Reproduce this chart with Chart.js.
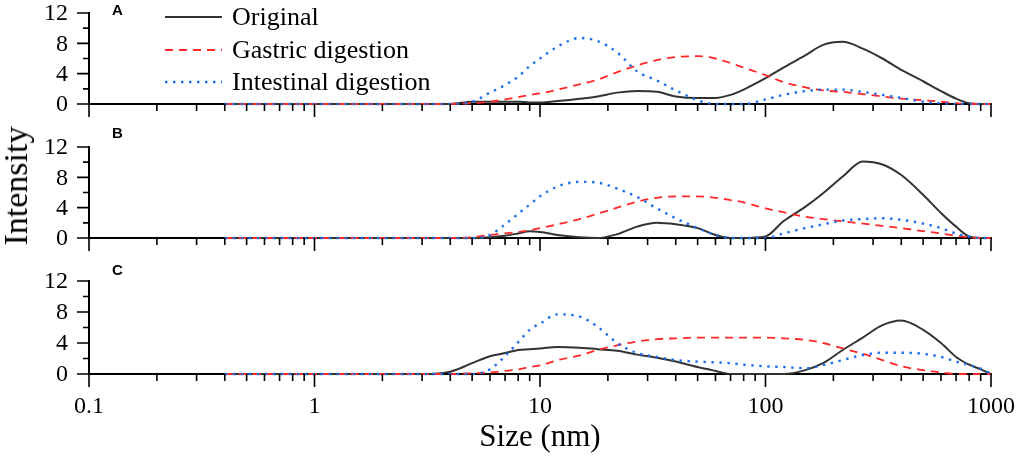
<!DOCTYPE html>
<html>
<head>
<meta charset="utf-8">
<script src="https://cdn.jsdelivr.net/npm/chart.js@4.4.1/dist/chart.umd.min.js"></script>
<style>
  html, body { margin: 0; padding: 0; background: #fff; }
  #wrap { position: relative; width: 1021px; height: 458px; overflow: hidden; }
  #wrap canvas { position: absolute; left: 0; }
  #ylab {
    position: absolute; left: 16px; top: 186px;
    transform: translate(-50%, -50%) rotate(-90deg);
    font: 34px "Liberation Serif", serif; color: #000; white-space: nowrap;
  }
</style>
</head>
<body>
<div id="wrap">
  <canvas id="panelA" width="1021" height="120" style="top:0px"></canvas>
  <canvas id="panelB" width="1021" height="134" style="top:120px"></canvas>
  <canvas id="panelC" width="1021" height="204" style="top:254px"></canvas>
  <div id="ylab">Intensity</div>
</div>
<script>
// particle size (nm), shared by every curve
const sizes = [0.4, 1, 2, 3, 4, 5, 6, 7, 8, 9, 10, 12, 15, 18, 22, 27, 33, 40, 50, 60,
               70, 80, 100, 120, 150, 180, 220, 270, 330, 400, 500, 600, 700, 800, 900, 1000];
const seriesNames = ['Original', 'Gastric digestion', 'Intestinal digestion'];
const yTicks = [0, 4, 8, 12];
const xTickLabels = [0.1, 1, 10, 100, 1000];

// panel A
const originalA   = [0,0,0,0,0, 0.3,0.3,0.3,0.3,0.2, 0.2,0.4,0.7,1.0,1.5, 1.7,1.6,1.0,0.8,0.8, 1.2,1.9,3.4,4.8,6.4, 7.8,8.2,7.3,6.0,4.5, 3.0,1.7,0.7,0.1,0, 0];
const gastricA    = [0,0,0,0,0, 0.1,0.3,0.6,0.9,1.2, 1.4,1.9,2.6,3.2,4.2, 5.1,5.8,6.2,6.3,6.0, 5.4,4.8,3.8,2.9,2.2, 1.8,1.6,1.3,1.0,0.7, 0.5,0.3,0.1,0,0, 0];
const intestinalA = [0,0,0,0,0, 0.3,1.5,2.5,3.6,5.0, 6.0,7.6,8.7,8.3,6.8, 4.3,3.1,1.8,0.5,0, 0,0,0.6,1.2,1.7, 1.9,1.9,1.6,1.2,0.8, 0.3,0.1,0,0,0, 0];
// panel B
const originalB   = [0,0,0,0,0, 0,0.1,0.3,0.6,0.9, 0.8,0.4,0.1,0,0.5, 1.5,2.0,1.8,1.3,0.4, 0,0,0.2,2.2,4.1, 5.9,8.1,10.1,9.7,8.3, 5.7,3.3,1.5,0.2,0, 0];
const gastricB    = [0,0,0,0,0, 0.1,0.4,0.6,0.8,1.0, 1.3,1.8,2.5,3.2,4.0, 4.8,5.3,5.5,5.5,5.3, 5.0,4.7,3.9,3.4,2.8, 2.5,2.2,1.9,1.6,1.3, 0.9,0.6,0.3,0.1,0, 0];
const intestinalB = [0,0,0,0,0, 0,0.4,1.8,3.2,4.4, 5.5,6.8,7.4,7.3,6.5, 5.4,3.9,2.6,1.3,0.4, 0,0,0,0.6,1.3, 1.8,2.3,2.5,2.6,2.4, 1.9,1.3,0.6,0.2,0, 0];
// panel C
const originalC   = [0,0,0,0,0.3, 1.4,2.3,2.7,3.1,3.2, 3.3,3.5,3.4,3.2,3.0, 2.5,2.1,1.6,0.9,0.4, 0,0,0,0,0.5, 1.4,3.1,4.7,6.3,6.9, 5.7,4.0,2.2,1.2,0.6, 0];
const gastricC    = [0,0,0,0,0, 0.1,0.2,0.4,0.6,0.9, 1.1,1.8,2.4,3.1,3.7, 4.2,4.5,4.6,4.7,4.7, 4.7,4.7,4.7,4.6,4.4, 4.0,3.3,2.6,1.8,1.0, 0.5,0.2,0,0,0, 0];
const intestinalC = [0,0,0,0,0, 0,0.6,2.3,4.1,5.7, 6.5,7.7,7.4,6.1,4.0, 2.7,2.2,1.8,1.6,1.5, 1.4,1.2,1.0,0.9,0.75, 1.15,1.8,2.45,2.75,2.75, 2.6,2.2,1.6,1.15,0.7, 0];

const lineStyles = [
  { borderColor: '#333333', borderWidth: 2, borderDash: [], order: 3 },
  { borderColor: 'rgb(255,40,40)', borderWidth: 1.8, borderDash: [8, 6], order: 2 },
  { borderColor: 'rgb(30,110,235)', borderWidth: 2.4, borderDash: [2.4, 5.6], order: 1 }
];

const serif = '"Liberation Serif", "Times New Roman", serif';

// tick marks (long at labelled values, short in between) and y tick labels
const axisMarks = {
  id: 'axisMarks',
  afterDraw(chart) {
    const { ctx, chartArea, scales: { x, y } } = chart;
    ctx.save();
    ctx.strokeStyle = '#000';
    ctx.lineWidth = 1.6;
    ctx.beginPath();
    yTicks.forEach(v => {
      const py = y.getPixelForValue(v);
      ctx.moveTo(chartArea.left - 12, py); ctx.lineTo(chartArea.left, py);
    });
    for (let i = 0; i < yTicks.length - 1; i++) {
      const py = y.getPixelForValue((yTicks[i] + yTicks[i + 1]) / 2);
      ctx.moveTo(chartArea.left - 6, py); ctx.lineTo(chartArea.left, py);
    }
    xTickLabels.forEach((d, k) => {
      const px = x.getPixelForValue(d);
      ctx.moveTo(px, chartArea.bottom); ctx.lineTo(px, chartArea.bottom + 13);
      if (k < xTickLabels.length - 1) {
        for (let m = 2; m <= 9; m++) {
          const pm = x.getPixelForValue(d * m);
          ctx.moveTo(pm, chartArea.bottom); ctx.lineTo(pm, chartArea.bottom + 7);
        }
      }
    });
    ctx.stroke();

    ctx.fillStyle = '#000';
    ctx.font = '24px ' + serif;
    ctx.textAlign = 'right';
    ctx.textBaseline = 'middle';
    yTicks.forEach(v => {
      ctx.fillText(String(v), chartArea.left - 21, y.getPixelForValue(v) + 1);
    });
    ctx.restore();
  }
};

const panelLetter = {
  id: 'panelLetter',
  afterDraw(chart, args, opts) {
    const ctx = chart.ctx;
    ctx.save();
    ctx.font = 'bold 15px "Liberation Sans", Arial, sans-serif';
    ctx.fillStyle = '#000';
    ctx.textBaseline = 'alphabetic';
    ctx.fillText(opts.text, chart.chartArea.left + 23, opts.y);
    ctx.restore();
  }
};

const seriesLegend = {
  id: 'seriesLegend',
  afterDraw(chart, args, opts) {
    if (!opts.show) return;
    const ctx = chart.ctx;
    const rows = [17, 50, 82];
    ctx.save();
    seriesNames.forEach((name, i) => {
      const st = lineStyles[i];
      ctx.beginPath();
      ctx.setLineDash(st.borderDash);
      ctx.strokeStyle = st.borderColor;
      ctx.lineWidth = st.borderWidth;
      ctx.moveTo(165, rows[i]); ctx.lineTo(222, rows[i]);
      ctx.stroke();
      ctx.setLineDash([]);
      ctx.fillStyle = '#000';
      ctx.font = '26px ' + serif;
      ctx.textBaseline = 'middle';
      ctx.fillText(name, 232, rows[i] + 1);
    });
    ctx.restore();
  }
};

function makePanel(id, letter, letterY, values, topPad, showX, legend) {
  const xHeight = showX ? 84 : 16;
  return new Chart(document.getElementById(id), {
    type: 'line',
    data: {
      datasets: seriesNames.map((name, i) => ({
        label: name,
        data: sizes.map((s, k) => ({ x: s, y: values[i][k] })),
        pointRadius: 0,
        fill: false,
        clip: false,
        cubicInterpolationMode: 'monotone',
        ...lineStyles[i]
      }))
    },
    options: {
      responsive: false,
      animation: false,
      devicePixelRatio: 1,
      layout: { padding: { left: 0, right: 30, top: topPad, bottom: 0 } },
      plugins: {
        legend: { display: false },
        tooltip: { enabled: false },
        panelLetter: { text: letter, y: letterY },
        seriesLegend: { show: legend }
      },
      scales: {
        x: {
          type: 'logarithmic',
          min: 0.1, max: 1000,
          grid: { display: false, drawTicks: false },
          border: { display: true, color: '#000', width: 2 },
          ticks: {
            display: showX,
            autoSkip: false,
            maxRotation: 0,
            padding: 18,
            color: '#000',
            font: { family: serif, size: 24 },
            callback: v => {
              const hit = xTickLabels.find(t => Math.abs(t - v) < t * 1e-6);
              return hit === undefined ? '' : String(hit);
            }
          },
          title: {
            display: showX, text: 'Size (nm)', color: '#000',
            font: { family: serif, size: 31 }, padding: { top: 0, bottom: 2 }
          },
          afterFit: s => {
            s.height = xHeight;
            s.paddingLeft = 0; s.paddingRight = 0;
            s.paddingTop = 0; s.paddingBottom = 0;
          }
        },
        y: {
          min: 0, max: 12,
          grid: { display: false, drawTicks: false },
          border: { display: true, color: '#000', width: 2 },
          ticks: { stepSize: 4, display: false },
          afterFit: s => {
            s.width = 89;
            s.paddingTop = 0; s.paddingBottom = 0;
            s.paddingLeft = 0; s.paddingRight = 0;
          }
        }
      }
    },
    plugins: [axisMarks, panelLetter, seriesLegend]
  });
}

makePanel('panelA', 'A', 15, [originalA, gastricA, intestinalA], 13, false, true);
makePanel('panelB', 'B', 18, [originalB, gastricB, intestinalB], 27, false, false);
makePanel('panelC', 'C', 21, [originalC, gastricC, intestinalC], 27, true, false);
</script>
</body>
</html>
